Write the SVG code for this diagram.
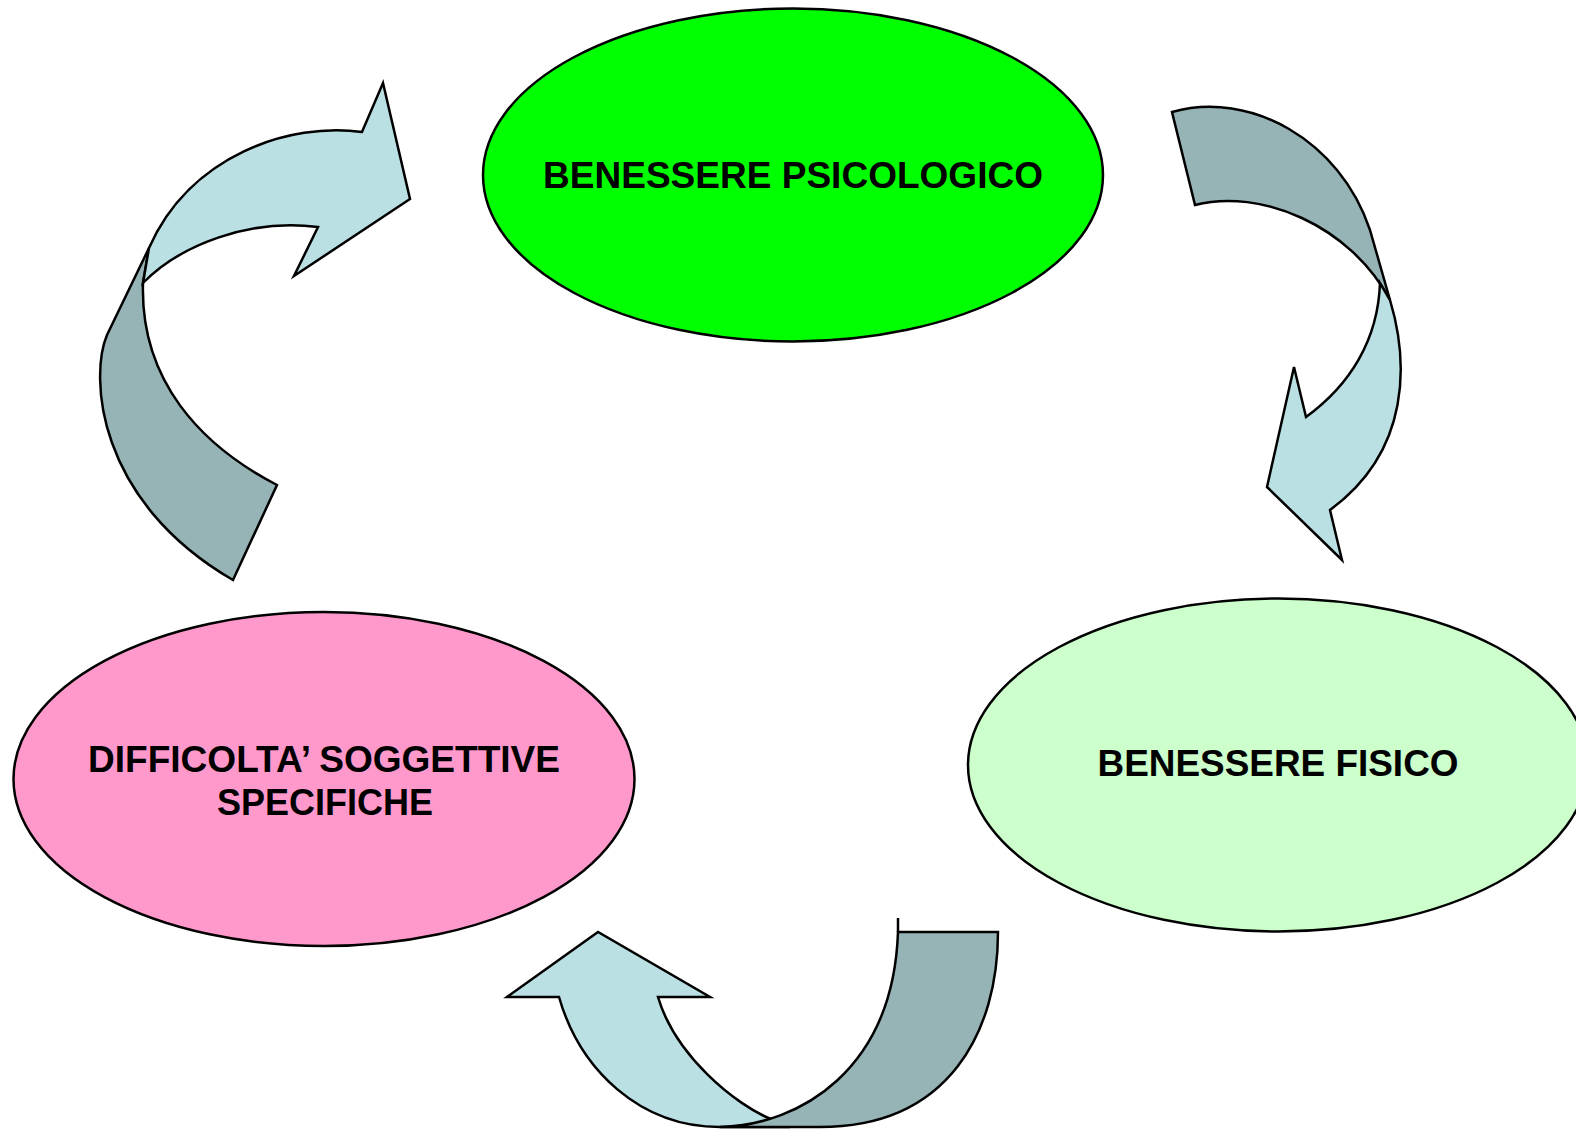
<svg xmlns="http://www.w3.org/2000/svg" width="1576" height="1129" viewBox="0 0 1576 1129">
<style>
.n{stroke:#000;stroke-width:2.5}
.t{font-family:"Liberation Sans",Arial,sans-serif;font-weight:bold;font-size:36px;fill:#000;text-anchor:middle}
.lt{fill:#BBE0E3;stroke:#000;stroke-width:2.5;stroke-linejoin:miter}
.dk{fill:#96B3B5;stroke:#000;stroke-width:2.5;stroke-linejoin:miter}
</style>
<rect width="1576" height="1129" fill="#fff"/>
<g id="node-psicologico">
<ellipse class="n" cx="793" cy="175" rx="310" ry="166.5" fill="#00FF00"/>
<text class="t" x="793" y="188" textLength="500" lengthAdjust="spacingAndGlyphs">BENESSERE PSICOLOGICO</text>
</g>
<g id="node-fisico">
<ellipse class="n" cx="1278" cy="765" rx="310" ry="166.5" fill="#CCFFCC"/>
<text class="t" x="1278" y="776" textLength="361" lengthAdjust="spacingAndGlyphs">BENESSERE FISICO</text>
</g>
<g id="node-difficolta">
<ellipse class="n" cx="324" cy="779" rx="310.5" ry="167" fill="#FF99CC"/>
<text class="t" x="324" y="772" textLength="472" lengthAdjust="spacingAndGlyphs">DIFFICOLTA’ SOGGETTIVE</text>
<text class="t" x="325" y="815" textLength="216" lengthAdjust="spacingAndGlyphs">SPECIFICHE</text>
</g>
<g id="connectors">
<g id="arrow-left">
<path class="dk" d="M149,248 L107,335 C90,375 95,500 233,580 L277,485 C200,445 140,380 143,283 Z"/>
<path class="lt" d="M362,132 C290,122 190,155 149,248 L143,283 C180,245 250,218 318,227 L294,276 L410,199 L383,83 Z"/>
</g>
<g id="arrow-right">
<path class="dk" d="M1172,112 C1250,90 1340,140 1370,230 L1390,300 C1350,225 1260,188 1195,205 Z"/>
<path class="lt" d="M1390,300 C1408,360 1412,450 1330,510 L1342,560 L1267,487 L1294,367 L1306,417 C1350,385 1378,340 1380,283 Z"/>
</g>
<g id="arrow-bottom">
<path class="lt" d="M773,1120 C735,1105 675,1055 658,997 L710,997 L598,932 L507,997 L559,997 C580,1070 640,1127 720,1127 L790,1127 Z"/>
<path class="dk" d="M898,932 L998,932 C998,1030 950,1127 820,1127 L720,1127 C800,1125 893,1070 898,932 Z"/>
<path d="M898,918 L898,932" stroke="#000" stroke-width="2.5" fill="none"/>
</g>
</g>
</svg>
